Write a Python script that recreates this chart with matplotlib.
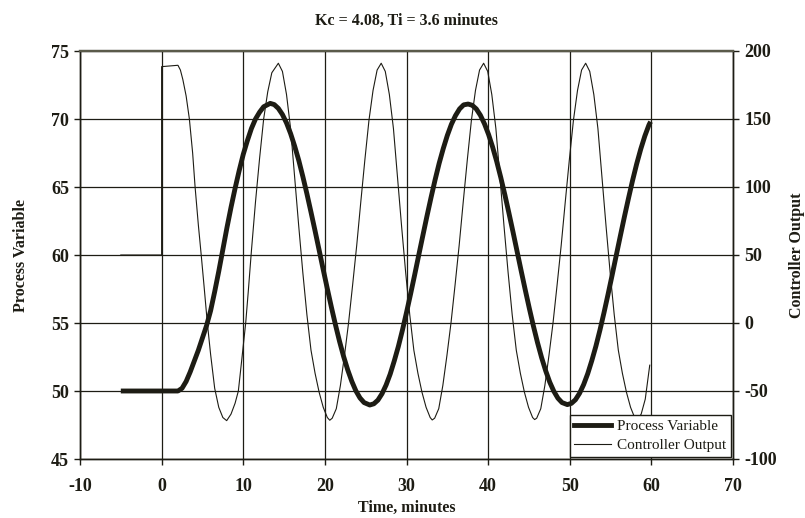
import matplotlib
matplotlib.use("Agg")
import matplotlib.pyplot as plt
from matplotlib.lines import Line2D

# ---------------- data ----------------
title = "Kc = 4.08, Ti = 3.6 minutes"
x_label = "Time, minutes"
left_label = "Process Variable"
right_label = "Controller Output"
series_names = ["Process Variable", "Controller Output"]

x_ticks = [-10, 0, 10, 20, 30, 40, 50, 60, 70]
left_ticks = [45, 50, 55, 60, 65, 70, 75]
right_ticks = [-100, -50, 0, 50, 100, 150, 200]

pv_time = [-5.0, 2.0, 2.5, 3.0, 3.5, 4.0, 4.5, 5.0, 5.5, 6.0, 6.5, 7.0, 7.5, 8.0,
           8.5, 9.0, 9.5, 10.0, 10.5, 11.0, 11.5, 12.0, 12.5, 13.3,
           13.8, 14.3, 14.8, 15.3, 15.8, 16.3, 16.8, 17.3, 17.8, 18.3, 18.8, 19.3,
           19.8, 20.3, 20.8, 21.3, 21.8, 22.3, 22.8, 23.3, 23.8, 24.3, 24.8, 25.5,
           26.0, 26.5, 27.0, 27.5, 28.0, 28.5, 29.0, 29.5, 30.0, 30.5, 31.0, 31.5,
           32.0, 32.5, 33.0, 33.5, 34.0, 34.5, 35.0, 35.5, 36.0, 36.5, 37.0, 37.55,
           38.05, 38.55, 39.05, 39.55, 40.05, 40.55, 41.05, 41.55, 42.05, 42.55,
           43.05, 43.55, 44.05, 44.55, 45.05, 45.55, 46.05, 46.55, 47.05, 47.55,
           48.05, 48.55, 49.05, 49.7,
           50.2, 50.7, 51.2, 51.7, 52.2, 52.7, 53.2, 53.7, 54.2, 54.7, 55.2, 55.7,
           56.2, 56.7, 57.2, 57.7, 58.2, 58.7, 59.2, 59.7, 59.9]
pv_value = [50.0, 50.0, 50.2, 50.7, 51.4, 52.2, 53.0, 53.9, 54.8, 55.9, 57.3, 58.8, 60.4, 62.0,
            63.5, 64.9, 66.2, 67.4, 68.4, 69.3, 70.0, 70.5, 70.9, 71.15,
            71.06, 70.78, 70.33, 69.71, 68.93, 68.0, 66.96, 65.77, 64.5, 63.15, 61.77, 60.35,
            58.92, 57.52, 56.16, 54.86, 53.64, 52.53, 51.55, 50.71, 50.01, 49.49, 49.15, 48.97,
            49.06, 49.33, 49.8, 50.44, 51.24, 52.21, 53.27, 54.47, 55.77, 57.13, 58.54, 59.99,
            61.42, 62.84, 64.21, 65.52, 66.74, 67.82, 68.79, 69.61, 70.25, 70.74, 71.04, 71.1,
            71.01, 70.74, 70.28, 69.65, 68.87, 67.94, 66.88, 65.7, 64.43, 63.08,
            61.69, 60.26, 58.83, 57.43, 56.07, 54.77, 53.56, 52.46, 51.49, 50.65,
            49.98, 49.47, 49.15, 49.0,
            49.09, 49.36, 49.83, 50.47, 51.27, 52.23, 53.29, 54.48, 55.77, 57.13, 58.54, 59.98,
            61.41, 62.82, 64.18, 65.49, 66.7, 67.79, 68.75, 69.56, 69.8]

co_time = [-5.0, 0.0, 0.0, 1.0, 2.0, 2.3, 2.6, 3.0, 3.4, 3.8, 4.1, 4.5, 4.85, 5.2, 5.6,
           6.0, 6.5, 7.0, 7.5, 7.97,
           8.5, 9.0, 9.4, 9.8, 10.3, 10.6, 11.0, 11.5, 12.0, 12.5, 13.0, 13.5, 14.3,
           14.8, 15.3, 15.8, 16.3, 16.8, 17.3, 17.8, 18.3, 18.8, 19.3, 19.8, 20.3, 20.6,
           20.9, 21.4, 21.9, 22.4, 22.9, 23.4, 23.9, 24.4, 24.9, 25.4, 25.9, 26.4, 26.9,
           27.4, 27.9, 28.4, 28.9, 29.4, 29.9, 30.4, 30.9, 31.4, 31.9, 32.4, 32.9, 33.15,
           33.45, 33.95, 34.45, 34.95, 35.45, 35.95, 36.45, 36.95, 37.45, 37.95, 38.45, 38.95, 39.45,
           39.95, 40.45, 40.95, 41.45, 41.95, 42.45, 42.95, 43.45, 43.95, 44.45, 44.95, 45.45, 45.7,
           45.95, 46.45, 46.95, 47.45, 47.95, 48.45, 48.95, 49.45, 49.95, 50.45, 50.95, 51.45, 51.95,
           52.45, 52.95, 53.45, 53.95, 54.45, 54.95, 55.45, 55.95, 56.45, 56.95, 57.45, 57.95, 58.25,
           58.75, 59.25, 59.8]
co_value = [50, 50, 188.5, 189, 189.5, 186, 179, 167, 150, 125, 100, 72, 50, 27, 0,
            -23, -48, -62, -69.5, -71.8,
            -67, -59, -50, -28, 0, 22, 53, 89, 121, 150, 170, 184, 191,
            185, 168, 143, 107, 71, 37, 6, -20, -37, -51, -62, -69.5, -71.5,
            -70, -63, -46, -24, 0, 28, 57, 89, 120, 149, 171, 186, 191,
            185, 168, 143, 107, 71, 37, 6, -20, -37, -51, -62, -69.5, -71.3,
            -70, -63, -46, -24, 0, 28, 57, 89, 120, 149, 171, 186, 191,
            185, 168, 143, 107, 71, 37, 6, -20, -37, -51, -62, -69.5, -71,
            -70, -63, -46, -24, 0, 28, 57, 89, 120, 149, 171, 186, 191,
            185, 168, 143, 107, 71, 37, 6, -20, -37, -51, -62, -69.5, -71.5,
            -67, -56, -31]

# ---------------- styling ----------------
ink = "#1d1c14"
serif = ["Liberation Serif", "DejaVu Serif"]
plt.rcParams["font.family"] = serif
plt.rcParams["axes.unicode_minus"] = False

fig = plt.figure(figsize=(8.05, 5.18), dpi=100)
ax1 = fig.add_axes([80 / 805, 59 / 518, 653 / 805, 408 / 518])
ax2 = ax1.twinx()
ax1.set_zorder(ax2.get_zorder() + 1)
ax1.patch.set_visible(False)

ax1.plot(pv_time, pv_value, color=ink, lw=3.5, solid_capstyle="butt", zorder=5)
ax2.plot(co_time, co_value, color=ink, lw=0.8, zorder=3)

ax1.set_xlim(-10, 70)
ax1.set_ylim(45, 75)
ax2.set_ylim(-100, 200)
ax1.set_xticks(x_ticks)
ax1.set_yticks(left_ticks)
ax2.set_yticks(right_ticks)

ax1.grid(True, color=ink, lw=0.9)
ax1.set_axisbelow(True)

for ax in (ax1, ax2):
    for sp in ax.spines.values():
        sp.set_color(ink)
        sp.set_linewidth(1.0)
    ax.spines["top"].set_color("#5a5a4a")
    ax.spines["top"].set_linewidth(1.6)
    ax.tick_params(direction="out", length=4, width=1.0, color=ink,
                   labelsize=13, labelcolor=ink, pad=4)
    for lab in ax.get_xticklabels() + ax.get_yticklabels():
        lab.set_fontweight("bold")
ax1.tick_params(axis="x", pad=10)

ax1.set_xlabel(x_label, fontsize=11.5, fontweight="bold", color=ink, labelpad=3)
ax1.set_ylabel(left_label, fontsize=11.5, fontweight="bold", color=ink, labelpad=16)
ax2.set_ylabel(right_label, fontsize=11.5, fontweight="bold", color=ink, labelpad=9)
ax1.set_title(title, fontsize=11.5, fontweight="bold", color=ink, pad=19)

handles = [Line2D([], [], color=ink, lw=3.5), Line2D([], [], color=ink, lw=0.8)]
leg = ax1.legend(handles, series_names, loc="lower right", fontsize=11,
                 frameon=True, fancybox=False, framealpha=1, edgecolor=ink,
                 borderaxespad=0.15, handlelength=2.4, handletextpad=0.4,
                 borderpad=0.3, labelspacing=0.35)
leg.get_frame().set_linewidth(1.0)
for t in leg.get_texts():
    t.set_color(ink)

fig.savefig("out.png", dpi=100)
